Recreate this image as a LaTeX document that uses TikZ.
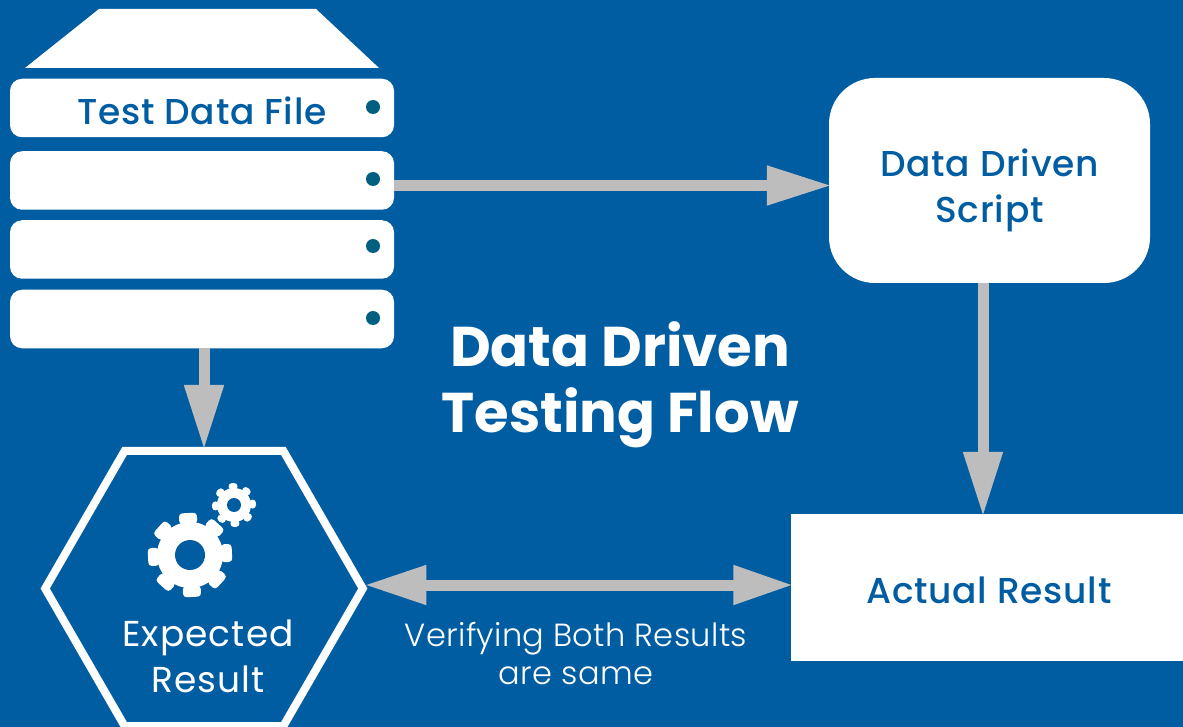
\documentclass[tikz,border=0pt]{standalone}
\usepackage{fontspec}
\setmainfont{Poppins}
\newfontfamily\mediumfont[LetterSpace=2]{Poppins Medium}
\newfontfamily\regularfont[LetterSpace=3]{Poppins}
\newfontfamily\lightfont[LetterSpace=1]{Poppins Light}
\usetikzlibrary{arrows.meta,shapes.geometric}

\definecolor{bgblue}{HTML}{005DA2}
\definecolor{dotteal}{HTML}{005F80}
\definecolor{arrowgray}{HTML}{BDBDBD}

\tikzset{
  slot/.style={fill=white, rounded corners=12pt, minimum width=384pt, minimum height=58.5pt, inner sep=0pt},
  flow/.style={draw=arrowgray, line width=11pt, shorten >=-3pt, -{Triangle[length=65pt,width=37pt]}},
  flowboth/.style={draw=arrowgray, line width=11pt, shorten >=-2.5pt, shorten <=-3pt,
    {Triangle[length=62pt,width=37pt]}-{Triangle[length=60pt,width=37pt]}},
  caption/.style={align=center, inner sep=0pt, font=\fontsize{36}{46}\selectfont\mediumfont}
}

% center, outer radius, body radius, hole radius, tooth width, turn
\newcommand{\gearicon}[6]{
  \fill[white] (#1) circle (#3pt);
  \foreach \a in {0,45,...,315}
    \fill[white, rounded corners=3.5pt, shift={(#1)}, rotate=\a+#6] (-#5/2,#3-2) rectangle (#5/2,#2);
  \fill[bgblue] (#1) circle (#4pt);
}

\begin{document}
\begin{tikzpicture}[x=1pt,y=-1pt]

  % Background, fixes the page size
  \path[use as bounding box, fill=bgblue] (0,0) rectangle (1183,727);

  % Lid of the data file
  \fill[white] (25,68) -- (99,9) -- (316,9) -- (379,68) -- cycle;

  % The four rows of the data file
  \node[slot] (row1) at (202,108) {};
  \node[slot] (row2) at (202,180.5) {};
  \node[slot] (row3) at (202,249.5) {};
  \node[slot] (row4) at (202,319) {};
  \node[caption, text=bgblue] (rowtext) at (202,111) {Test Data File};

  % The dot at the end of each row
  \fill[dotteal] (373,107) circle (7pt);
  \fill[dotteal] (373,179) circle (7pt);
  \fill[dotteal] (373,246) circle (7pt);
  \fill[dotteal] (373,318) circle (7pt);

  % Script box
  \node[fill=white, rounded corners=46pt, minimum width=321pt, minimum height=205pt, inner sep=0pt]
    (script) at (989.5,180.5) {};
  \node[caption, text=bgblue] (scripttext) at (989.5,190) {Data Driven\\Script};

  % Actual result box, runs to the right edge
  \node[fill=white, minimum width=392pt, minimum height=147pt, inner sep=0pt] (actual) at (987,587.5) {};
  \node[caption, text=bgblue] (actualtext) at (989,590) {Actual Result};

  % Expected result hexagon
  \node[draw=white, line width=8pt, regular polygon, regular polygon sides=6,
    minimum size=317.6pt, inner sep=0pt] (expected) at (204,588.5) {};
  \gearicon{190,555}{42}{33}{15}{18}{3}
  \gearicon{234,505}{22}{17}{7}{9}{3}
  \node[caption, text=white, font=\fontsize{36}{46}\selectfont\regularfont] (expectedtext) at (208,656) {Expected\\Result};

  % Title
  \node[align=center, inner sep=0pt, text=white, font=\fontsize{56}{66}\selectfont\bfseries] (title) at (620,385) {Data Driven\\Testing Flow};

  % Note under the double arrow
  \node[align=center, inner sep=0pt, text=white, font=\fontsize{32}{38}\selectfont\lightfont] (note) at (576,654) {Verifying Both Results\\are same};

  % Arrows
  \draw[flow] ([yshift=-5pt]row2.east) -- ([yshift=-5pt]script.west);
  \draw[flow] ([xshift=-6.5pt]script.south) -- ([xshift=-6.5pt]script.south |- actual.north);
  \draw[flow] (row4.south -| expected.north) -- (expected.north);
  \draw[flowboth] ([yshift=2.5pt]expected.east |- actual.west) -- ([yshift=2.5pt]actual.west);

\end{tikzpicture}
\end{document}
